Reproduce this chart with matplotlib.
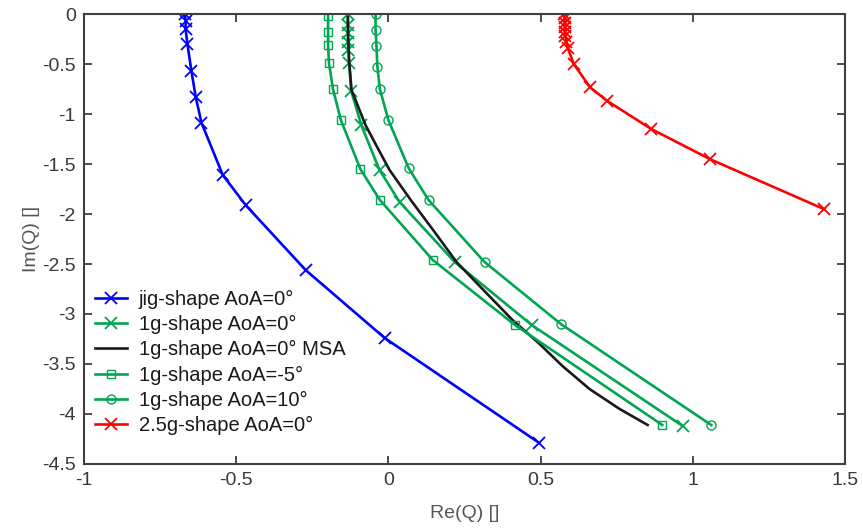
import matplotlib
matplotlib.use("Agg")
import matplotlib.pyplot as plt

plt.rcParams['font.family'] = ['Liberation Sans', 'DejaVu Sans']

# jig-shape AoA=0
jig_re = [-0.669, -0.666, -0.666, -0.660, -0.647, -0.633, -0.614, -0.544, -0.469, -0.272, -0.012, 0.496]
jig_im = [0.0, -0.067, -0.153, -0.303, -0.57, -0.827, -1.087, -1.61, -1.91, -2.56, -3.24, -4.29]

# 1g-shape AoA=0
g1_re = [-0.133, -0.133, -0.133, -0.133, -0.131, -0.129, -0.122, -0.089, -0.029, 0.037, 0.218, 0.471, 0.967]
g1_im = [0.0, -0.11, -0.19, -0.28, -0.36, -0.49, -0.77, -1.11, -1.56, -1.88, -2.48, -3.11, -4.12]

# 1g-shape AoA=0 MSA
msa_re = [-0.133, -0.132, -0.129, -0.121, -0.075, -0.035, 0.004, 0.076, 0.152, 0.224,
          0.322, 0.408, 0.497, 0.572, 0.661, 0.760, 0.852]
msa_im = [-0.03, -0.21, -0.46, -0.76, -1.11, -1.34, -1.56, -1.87, -2.18, -2.48,
          -2.79, -3.06, -3.30, -3.52, -3.75, -3.95, -4.11]

# 1g-shape AoA=-5
m5_re = [-0.198, -0.198, -0.198, -0.195, -0.182, -0.156, -0.092, -0.029, 0.146, 0.416, 0.900]
m5_im = [-0.02, -0.177, -0.31, -0.493, -0.75, -1.06, -1.55, -1.855, -2.46, -3.11, -4.11]

# 1g-shape AoA=10
p10_re = [-0.042, -0.042, -0.039, -0.036, -0.028, 0.000, 0.067, 0.132, 0.316, 0.568, 1.061]
p10_im = [0.0, -0.16, -0.32, -0.525, -0.748, -1.06, -1.543, -1.86, -2.48, -3.103, -4.11]

# 2.5g-shape AoA=0
g25_re = [0.576, 0.579, 0.579, 0.581, 0.581, 0.582, 0.585, 0.590, 0.609, 0.663, 0.718, 0.864, 1.058, 1.433]
g25_im = [0.0, -0.043, -0.087, -0.133, -0.177, -0.22, -0.277, -0.343, -0.50, -0.733, -0.867, -1.15, -1.453, -1.953]

xticks = [-1, -0.5, 0, 0.5, 1, 1.5]
yticks = [0, -0.5, -1, -1.5, -2, -2.5, -3, -3.5, -4, -4.5]

blue = '#0000ff'
green = '#00a651'
red = '#ff0000'

fig = plt.figure(figsize=(8.63, 5.29), dpi=100)
ax = fig.add_axes([0.0973, 0.1229, 0.8817, 0.8506])

lw = 1.9
ax.plot(jig_re, jig_im, color=blue, lw=lw, marker='x', ms=9, mew=1.3, label='jig-shape AoA=0°')
ax.plot(g1_re, g1_im, color=green, lw=lw, marker='x', ms=9, mew=1.3, label='1g-shape AoA=0°')
ax.plot(msa_re, msa_im, color='#1a1a1a', lw=lw, label='1g-shape AoA=0° MSA')
ax.plot(m5_re, m5_im, color=green, lw=lw, marker='s', ms=5.5, mew=1.0, mfc='none', label='1g-shape AoA=-5°')
ax.plot(p10_re, p10_im, color=green, lw=lw, marker='o', ms=6.5, mew=1.0, mfc='none', label='1g-shape AoA=10°')
ax.plot(g25_re, g25_im, color=red, lw=lw, marker='x', ms=9, mew=1.3, label='2.5g-shape AoA=0°')

ax.set_xlim(-1, 1.5)
ax.set_ylim(-4.5, 0)
ax.set_xticks(xticks)
ax.set_xticklabels([f'{t:g}' for t in xticks])
ax.set_yticks(yticks)
ax.set_yticklabels([f'{t:g}' for t in yticks])

ax.tick_params(direction='in', length=6, width=1.3, top=True, right=True,
               labelsize=14, colors='#404040', labelcolor='#3a3a3a', pad=6)
for s in ax.spines.values():
    s.set_color('#404040')
    s.set_linewidth(1.5)

ax.set_xlabel('Re(Q) []', fontsize=14, color='#555555', labelpad=11)
ax.set_ylabel('Im(Q) []', fontsize=14, color='#555555', labelpad=1)

leg = ax.legend(loc='upper left', bbox_to_anchor=(0.105, 0.459), bbox_transform=fig.transFigure,
                frameon=False, fontsize=14.5, handlelength=1.6, handletextpad=0.6,
                labelspacing=0.3, borderaxespad=0, borderpad=0.2)
for t in leg.get_texts():
    t.set_color('#1a1a1a')

fig.savefig('out.png', dpi=100)
